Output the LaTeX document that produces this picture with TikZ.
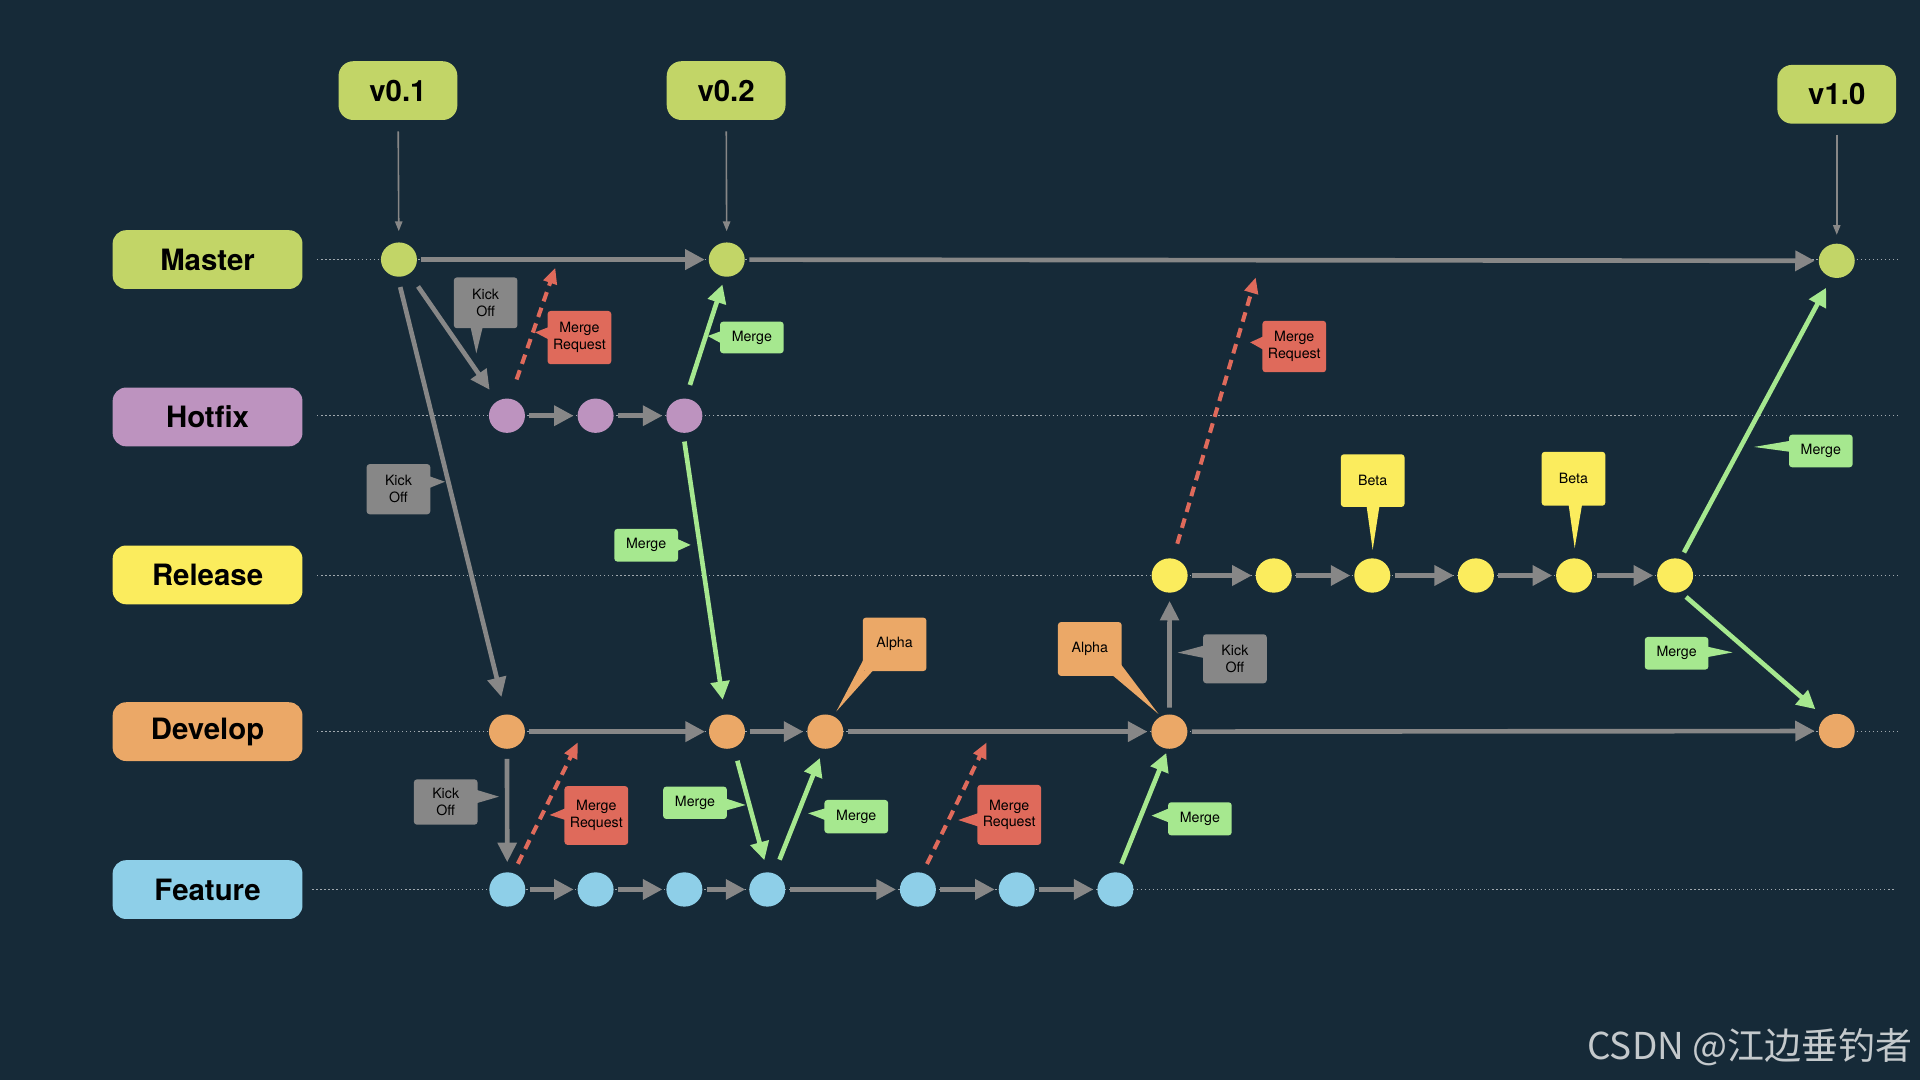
\documentclass[tikz,border=0pt]{standalone}
\usepackage{fontspec}
\setmainfont{TeX Gyre Heros}
\newfontfamily\cjkfont{Noto Sans CJK SC}
\usetikzlibrary{arrows.meta,shapes.geometric}
\definecolor{bg}{RGB}{22,42,56}
\definecolor{cmaster}{RGB}{194,213,103}
\definecolor{chotfix}{RGB}{189,147,191}
\definecolor{crelease}{RGB}{251,236,93}
\definecolor{cdevelop}{RGB}{235,168,103}
\definecolor{cfeature}{RGB}{142,207,232}
\definecolor{cgray}{RGB}{135,135,135}
\definecolor{cgreen}{RGB}{166,232,143}
\definecolor{cred}{RGB}{223,106,91}
\definecolor{cguide}{RGB}{160,168,174}
\definecolor{cwm}{RGB}{196,201,204}
\begin{document}
\begin{tikzpicture}[x=1pt,y=-1pt,
  branchlbl/.style={rectangle, rounded corners=11pt, minimum width=155pt, minimum height=48pt, inner sep=0pt, text=black, font=\fontsize{24}{28}\selectfont\bfseries},
  tagbox/.style={rectangle, rounded corners=12pt, minimum width=97pt, minimum height=48pt, inner sep=0pt, fill=cmaster, text=black, font=\fontsize{24}{28}\selectfont\bfseries},
  commit/.style={ellipse, minimum width=29.4pt, minimum height=28pt, inner sep=0pt},
  callout/.style={rectangle, rounded corners=2.5pt, inner sep=0pt, text width=52pt, align=center, text=black, font=\fontsize{11.6}{13.6}\selectfont},
  flow/.style={draw=cgray, line width=3.8pt, -{Triangle[length=16pt,width=16pt]}, shorten <=3.5pt, shorten >=3pt},
  kick/.style={draw=cgray, line width=3.8pt, -{Triangle[length=16pt,width=15pt]}},
  mergearrow/.style={draw=cgreen, line width=3.8pt, -{Triangle[length=15pt,width=15pt]}},
  mreq/.style={draw=cred, line width=3.3pt, dash pattern=on 8pt off 5.5pt, -{Triangle[length=13pt,width=11pt]}},
  tagarrow/.style={draw=cgray, line width=1.3pt, -{Triangle[length=8pt,width=6pt]}},
  guide/.style={draw=cguide, line width=1.1pt, dash pattern=on 1.1pt off 2.2pt}
]
\fill[bg] (0,0) rectangle (1568,882);
\useasboundingbox (0,0) rectangle (1568,882);

% timeline guides
\draw[guide] (259,212) -- (1552,212);
\draw[guide] (259,339.5) -- (1552,339.5);
\draw[guide] (259,470) -- (1552,470);
\draw[guide] (259,597.5) -- (1552,597.5);
\draw[guide] (255,726.4) -- (1548,726.4);

% branch labels
\node[branchlbl, fill=cmaster]  (lmaster)  at (169.5,212)   {Master};
\node[branchlbl, fill=chotfix]  (lhotfix)  at (169.5,340.5) {Hotfix};
\node[branchlbl, fill=crelease] (lrelease) at (169.5,469.5) {Release};
\node[branchlbl, fill=cdevelop] (ldevelop) at (169.5,597.5) {Develop};
\node[branchlbl, fill=cfeature] (lfeature) at (169.5,726.5) {Feature};

% version tags
\node[tagbox] (v01) at (325,74) {v0.1};
\node[tagbox] (v02) at (593,74) {v0.2};
\node[tagbox] (v10) at (1500,77) {v1.0};

% commits
\node[commit, fill=cmaster] (m1) at (325.8,212) {};
\node[commit, fill=cmaster] (m2) at (593.5,212) {};
\node[commit, fill=cmaster] (m3) at (1500,213) {};

\node[commit, fill=chotfix] (h1) at (414,339.5) {};
\node[commit, fill=chotfix] (h2) at (486.4,339.5) {};
\node[commit, fill=chotfix] (h3) at (558.9,339.5) {};

\node[commit, fill=crelease] (r1) at (955.2,470) {};
\node[commit, fill=crelease] (r2) at (1040.2,470) {};
\node[commit, fill=crelease] (r3) at (1120.7,470) {};
\node[commit, fill=crelease] (r4) at (1205.3,470) {};
\node[commit, fill=crelease] (r5) at (1285.5,470) {};
\node[commit, fill=crelease] (r6) at (1368,470) {};

\node[commit, fill=cdevelop] (d1) at (414,597.5) {};
\node[commit, fill=cdevelop] (d2) at (593.7,597.5) {};
\node[commit, fill=cdevelop] (d3) at (674,597.5) {};
\node[commit, fill=cdevelop] (d4) at (955,597.5) {};
\node[commit, fill=cdevelop] (d5) at (1500,597) {};

\node[commit, fill=cfeature] (f1) at (414.3,726.4) {};
\node[commit, fill=cfeature] (f2) at (486.4,726.4) {};
\node[commit, fill=cfeature] (f3) at (558.9,726.4) {};
\node[commit, fill=cfeature] (f4) at (626.6,726.4) {};
\node[commit, fill=cfeature] (f5) at (749.6,726.4) {};
\node[commit, fill=cfeature] (f6) at (830.3,726.4) {};
\node[commit, fill=cfeature] (f7) at (910.9,726.4) {};

% tag arrows
\draw[tagarrow, shorten <=9pt, shorten >=9pt] (v01) -- (m1);
\draw[tagarrow, shorten <=9pt, shorten >=9pt] (v02) -- (m2);
\draw[tagarrow, shorten <=8.7pt, shorten >=7pt] (v10) -- (m3);

% branch flows
\draw[flow] (m1) -- (m2);
\draw[flow] (m2) -- (m3);
\draw[flow] (h1) -- (h2);
\draw[flow] (h2) -- (h3);
\draw[flow] (r1) -- (r2);
\draw[flow] (r2) -- (r3);
\draw[flow] (r3) -- (r4);
\draw[flow] (r4) -- (r5);
\draw[flow] (r5) -- (r6);
\draw[flow] (d1) -- (d2);
\draw[flow] (d2) -- (d3);
\draw[flow] (d3) -- (d4);
\draw[flow] (d4) -- (d5);
\draw[flow] (f1) -- (f2);
\draw[flow] (f2) -- (f3);
\draw[flow] (f3) -- (f4);
\draw[flow] (f4) -- (f5);
\draw[flow] (f5) -- (f6);
\draw[flow] (f6) -- (f7);

% kick offs
\draw[kick, shorten <=12.5pt, shorten >=11pt] (m1.-54.8) -- (h1.123.7);
\draw[kick, shorten <=8.5pt, shorten >=14.5pt] (m1.-94.5) -- (d1.94);
\draw[kick, shorten <=8pt, shorten >=8pt] (d1) -- (f1);
\draw[kick, shorten <=5.5pt, shorten >=6.5pt] (d4) -- (r1);

% merges
\draw[mergearrow, shorten <=11.5pt, shorten >=6.5pt] (h3.86.9) -- (m2.-96);
\draw[mergearrow, shorten <=7pt, shorten >=12pt] (h3.-94.6) -- (d2.97.3);
\draw[mergearrow, shorten <=11pt, shorten >=10pt] (d2.-67.7) -- (f4.89);
\draw[mergearrow, shorten <=12pt, shorten >=8pt] (f4.67) -- (d3.-96);
\draw[mergearrow, shorten <=7.5pt, shorten >=3.5pt] (f7.81.5) -- (d4.-95.5);
\draw[mergearrow, shorten <=6pt, shorten >=9.5pt] (r6.72) -- (m3.-107.9);
\draw[mergearrow, shorten <=6pt, shorten >=10.5pt] (r6.-72) -- (d5.131.6);

% merge requests
\coordinate (mrt1) at (453.5,218.6);
\coordinate (mrt2) at (471.9,606.2);
\coordinate (mrt3) at (805.8,606.2);
\coordinate (mrt4) at (1025.5,226.5);
\draw[mreq, shorten <=16.5pt] (h1.80.7) -- (mrt1);
\draw[mreq, shorten <=8.5pt] (f1.70.9) -- (mrt2);
\draw[mreq, shorten <=8pt] (f5.74.8) -- (mrt3);
\draw[mreq, shorten <=12.5pt] (r1.79.7) -- (mrt4);

% callouts
% Kick Off (master -> hotfix)
\fill[cgray] (384,266) -- (389,288.6) -- (394.5,266) -- cycle;
\node[callout, fill=cgray, minimum height=41.5pt] (ko1) at (396.6,247.3) {Kick\\Off};
% Merge Request (hotfix)
\fill[cred] (449,266.8) -- (437,271.4) -- (449,277.7) -- cycle;
\node[callout, fill=cred, minimum height=43.5pt] (mr1) at (473.2,275.7) {Merge\\Request};
% Merge (hotfix -> master)
\fill[cgreen] (590,270) -- (578,274.4) -- (590,281) -- cycle;
\node[callout, fill=cgreen, minimum height=25.8pt] (mg1) at (614,275.6) {Merge};
% Kick Off (master -> develop)
\fill[cgray] (350,388.7) -- (363.4,393.4) -- (350,398.8) -- cycle;
\node[callout, fill=cgray, minimum height=41pt] (ko2) at (325.4,399.5) {Kick\\Off};
% Merge (hotfix -> develop)
\fill[cgreen] (552,439.6) -- (564,445) -- (552,450.5) -- cycle;
\node[callout, fill=cgreen, minimum height=26.7pt] (mg2) at (527.7,445.3) {Merge};
% Alpha 1
\fill[cdevelop] (705.5,538) -- (683,581) -- (713,547.5) -- (705.5,547.5) -- cycle;
\node[callout, fill=cdevelop, minimum height=43.6pt] (al1) at (730.6,526.2) {Alpha};
% Kick Off (develop -> feature)
\fill[cgray] (389,645) -- (407.5,650.6) -- (389,656) -- cycle;
\node[callout, fill=cgray, minimum height=37pt] (ko3) at (364,655) {Kick\\Off};
% Merge Request (feature 1)
\fill[cred] (462,660) -- (448.8,665.6) -- (462,669.7) -- cycle;
\node[callout, fill=cred, minimum height=48pt] (mr2) at (487,666) {Merge\\Request};
% Merge (develop -> feature)
\fill[cgreen] (592.5,652) -- (609,657.4) -- (592.5,662) -- cycle;
\node[callout, fill=cgreen, minimum height=26.4pt] (mg3) at (567.6,655.6) {Merge};
% Merge (feature -> develop)
\fill[cgreen] (674.5,660) -- (660,664.2) -- (674.5,670) -- cycle;
\node[callout, fill=cgreen, minimum height=27.2pt] (mg4) at (699.3,666.9) {Merge};
% Merge Request (feature 5)
\fill[cred] (799,664) -- (782.6,669.7) -- (799,675) -- cycle;
\node[callout, fill=cred, minimum height=49pt] (mr3) at (824.2,665.5) {Merge\\Request};
% Alpha 2
\fill[cdevelop] (915,542) -- (946,583) -- (908,551) -- (915,551) -- cycle;
\node[callout, fill=cdevelop, minimum height=44pt] (al2) at (890,530) {Alpha};
% Kick Off (develop -> release)
\fill[cgray] (984,527) -- (961.8,533) -- (984,537.5) -- cycle;
\node[callout, fill=cgray, minimum height=40pt] (ko4) at (1008.5,538) {Kick\\Off};
% Merge (feature 7 -> develop)
\fill[cgreen] (955,660) -- (940.5,666.1) -- (955,671.8) -- cycle;
\node[callout, fill=cgreen, minimum height=27pt] (mg5) at (979.9,668.7) {Merge};
% Merge Request (release)
\fill[cred] (1032,274.6) -- (1021,279.6) -- (1032,285.8) -- cycle;
\node[callout, fill=cred, minimum height=42pt] (mr4) at (1057,283) {Merge\\Request};
% Beta 1
\fill[crelease] (1116,413) -- (1121,449) -- (1126.6,413) -- cycle;
\node[callout, fill=crelease, minimum height=43pt] (bt1) at (1121,392.5) {Beta};
% Beta 2
\fill[crelease] (1281,412) -- (1286,447.6) -- (1292,412) -- cycle;
\node[callout, fill=crelease, minimum height=44pt] (bt2) at (1285,391) {Beta};
% Merge (release -> master)
\fill[cgreen] (1462,360) -- (1432.4,365) -- (1462,369) -- cycle;
\node[callout, fill=cgreen, minimum height=26.6pt] (mg6) at (1487,368.3) {Merge};
% Merge (release -> develop)
\fill[cgreen] (1394,528) -- (1415,532.8) -- (1394,536.7) -- cycle;
\node[callout, fill=cgreen, minimum height=26.6pt] (mg7) at (1369.2,533.5) {Merge};

% watermark
\node[anchor=base, inner sep=0pt, text=cwm, font=\cjkfont\fontsize{30.2}{33}\selectfont] (wm) at (1429,865) {CSDN @江边垂钓者};
\end{tikzpicture}
\end{document}
